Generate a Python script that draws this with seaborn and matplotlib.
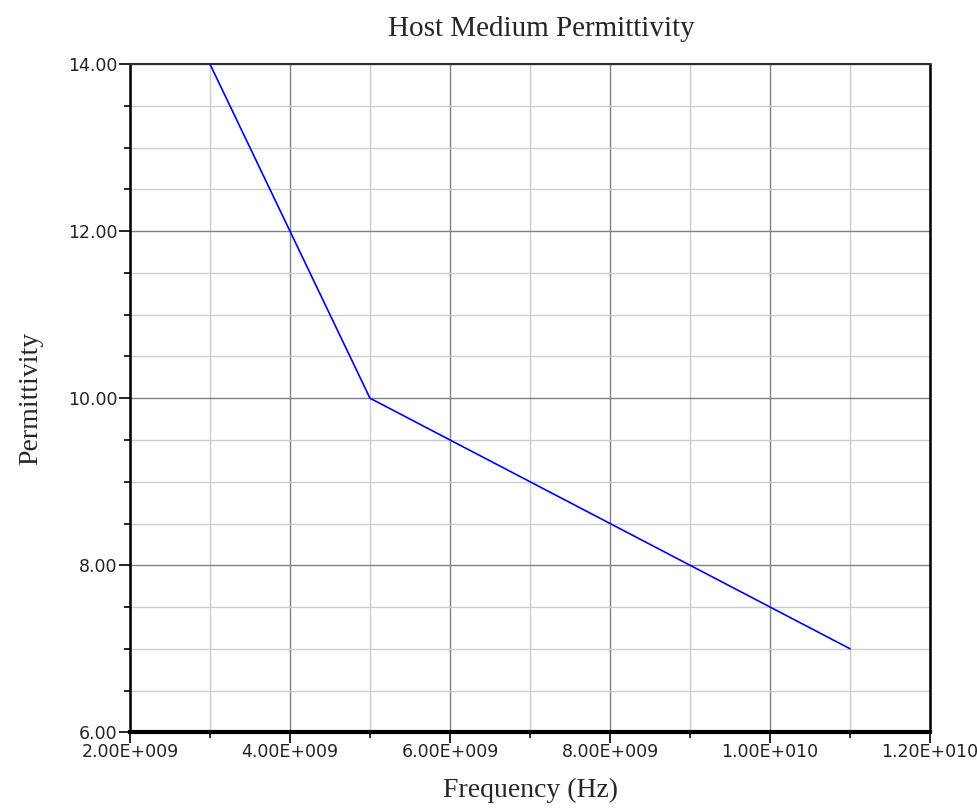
"""
Host medium permittivity vs frequency
"""

import pandas as pd
import matplotlib.pyplot as plt
import seaborn as sns
from matplotlib.ticker import MultipleLocator, FormatStrFormatter, FuncFormatter

sns.set_style('white')
plt.rcParams['font.family'] = ['DejaVu Sans']

# Data
frequency = [3e9, 4e9, 5e9, 6e9, 7e9, 8e9, 9e9, 1.0e10, 1.1e10]
permittivity = [14.0, 12.0, 10.0, 9.5, 9.0, 8.5, 8.0, 7.5, 7.0]

df = pd.DataFrame({'freq': frequency, 'eps': permittivity})

fig = plt.figure(figsize=(9.77, 8.11), dpi=100)
ax = fig.add_axes([0.133, 0.097, 0.819, 0.824])

sns.lineplot(data=df, x='freq', y='eps', ax=ax, color='#0000ff', linewidth=1.2, zorder=5)

ax.set_xlim(2e9, 1.2e10)
ax.set_ylim(6, 14)

ax.xaxis.set_major_locator(MultipleLocator(2e9))
ax.xaxis.set_minor_locator(MultipleLocator(1e9))
ax.yaxis.set_major_locator(MultipleLocator(2))
ax.yaxis.set_minor_locator(MultipleLocator(0.5))


def sci_fmt(v, pos):
    s = f'{v:.2E}'
    mant, exp = s.split('E')
    sign = exp[0]
    return f'{mant}E{sign}{int(exp[1:]):03d}'


ax.xaxis.set_major_formatter(FuncFormatter(sci_fmt))
ax.yaxis.set_major_formatter(FormatStrFormatter('%.2f'))

ax.grid(which='major', color='#808080', linewidth=1.0)
ax.grid(which='minor', color='#cccccc', linewidth=1.0)
ax.set_axisbelow(True)

ax.tick_params(which='both', direction='out', colors='black', labelsize=12.5,
               labelcolor='#222222')
ax.tick_params(which='major', length=8, width=1.2, pad=1)
ax.tick_params(which='minor', length=4, width=1.2)
ax.tick_params(axis='x', which='major', pad=0)
ax.tick_params(axis='y', which='both', left=True)
ax.tick_params(axis='x', which='both', bottom=True)

ax.spines['top'].set_color('#303030')
ax.spines['top'].set_linewidth(1.5)
ax.spines['right'].set_color('black')
ax.spines['right'].set_linewidth(1.8)
ax.spines['left'].set_color('black')
ax.spines['left'].set_linewidth(1.8)
ax.spines['bottom'].set_color('black')
ax.spines['bottom'].set_linewidth(3)

ax.set_title('Host Medium Permittivity', family='Liberation Serif', fontsize=21,
             pad=20, x=0.514)
ax.set_xlabel('Frequency (Hz)', family='Liberation Serif', fontsize=20, labelpad=12)
ax.set_ylabel('Permittivity', family='Liberation Serif', fontsize=20, labelpad=18)

plt.savefig('out.png', dpi=100)
